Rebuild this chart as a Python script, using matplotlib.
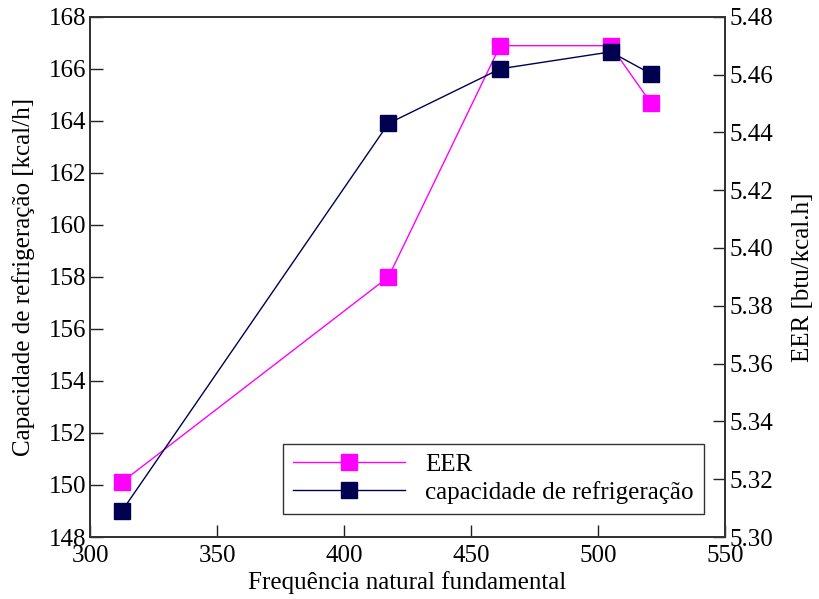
import matplotlib.pyplot as plt
from matplotlib.lines import Line2D

# Data
freq = [312.5, 417.5, 461.5, 505, 521]
capacidade = [149.0, 163.9, 166.0, 166.65, 165.8]
eer = [5.319, 5.390, 5.470, 5.470, 5.450]

cap_ticks = list(range(148, 169, 2))
eer_ticks = [5.30, 5.32, 5.34, 5.36, 5.38, 5.40, 5.42, 5.44, 5.46, 5.48]
x_ticks = [300, 350, 400, 450, 500, 550]

navy = '#000050'
magenta = '#ff00ff'

plt.rcParams['font.family'] = ['Liberation Serif', 'DejaVu Serif']
plt.rcParams['font.size'] = 18

fig = plt.figure(figsize=(8.2, 5.99), dpi=100)
ax = fig.add_axes([0.110, 0.1035, 0.774, 0.8685])
ax2 = ax.twinx()

ax2.plot(freq, eer, color=magenta, lw=1, marker='s', ms=11, mec=magenta, zorder=2)
ax.plot(freq, capacidade, color=navy, lw=1, marker='s', ms=11, mec=navy, zorder=3)
ax.set_zorder(ax2.get_zorder() + 1)
ax.patch.set_visible(False)

ax.set_xlim(300, 550)
ax.set_ylim(148, 168)
ax2.set_ylim(5.30, 5.48)
ax.set_xticks(x_ticks)
ax.set_yticks(cap_ticks)
ax2.set_yticks(eer_ticks)
ax2.set_yticklabels(['%.2f' % t for t in eer_ticks])

for a in (ax, ax2):
    a.tick_params(direction='in', length=9, width=1, color='#222222', pad=3)
    for s in a.spines.values():
        s.set_color('#333333')
        s.set_linewidth(1.3)
ax.tick_params(top=False)
ax.tick_params(axis='x', pad=6)

ax.set_xlabel('Frequência natural fundamental', labelpad=3)
ax.set_ylabel('Capacidade de refrigeração [kcal/h]', labelpad=10)
ax2.set_ylabel('EER [btu/kcal.h]', labelpad=14)

handles = [Line2D([], [], color=magenta, lw=1, marker='s', ms=11, mec=magenta),
           Line2D([], [], color=navy, lw=1, marker='s', ms=11, mec=navy)]
leg = ax.legend(handles, ['EER', 'capacidade de refrigeração'], loc='lower right',
                bbox_to_anchor=(0.967, 0.044), fancybox=False, framealpha=1,
                edgecolor='#333333', handlelength=4.5, borderpad=0.4,
                labelspacing=0.2, handletextpad=0.8, borderaxespad=0, fontsize=18)
leg.get_frame().set_linewidth(1)

fig.savefig('out.png', dpi=100)
